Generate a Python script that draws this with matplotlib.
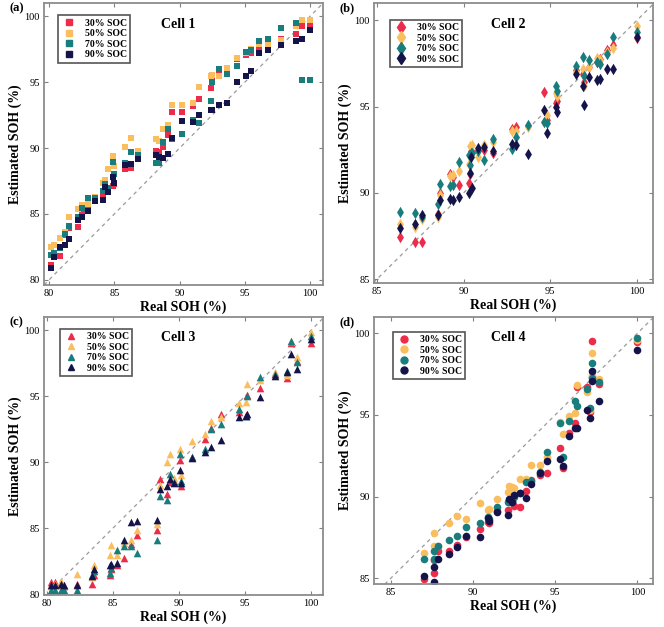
import matplotlib
matplotlib.use("Agg")
import matplotlib.pyplot as plt
import matplotlib.lines as mlines

plt.rcParams['font.family'] = ['Liberation Serif', 'DejaVu Serif']

# colours for the four SOC levels
soc_labels = ['30% SOC', '50% SOC', '70% SOC', '90% SOC']
soc_colors = ['#EB2D4B', '#FABE5F', '#197D7D', '#14144B']

# ---- Cell 1 ----
c1_x = [80.1, 80.4, 80.8, 81.2, 81.5, 82.2, 82.5, 83.0, 83.5, 84.1, 84.3, 84.5, 84.9,
        85.0, 85.8, 86.3, 86.8, 88.2, 88.4, 88.7, 89.1, 89.4, 90.2, 91.0, 91.5, 92.4,
        92.5, 93.0, 93.6, 94.4, 95.1, 95.45, 96.1, 96.8, 97.8, 98.9, 99.4, 100.0]
c1_30 = [81.1, 81.9, 81.8, 83.4, 83.9, 84.0, 85.1, 85.4, 86.1, 86.36, 86.8, 86.7, 87.12,
         87.3, 88.38, 88.5, 89.6, 89.8, 89.7, 90.06, 91.0, 92.75, 92.75, 93.2, 93.76, 94.57,
         95.5, 95.7, 95.7, 96.8, 97.1, 97.2, 97.7, 98.05, 98.3, 98.7, 99.24, 99.3]
c1_50 = [82.5, 82.6, 83.2, 83.6, 84.75, 85.35, 85.65, 85.75, 86.3, 87.37, 87.6, 88.4, 89.42,
         88.6, 90.05, 90.73, 89.8, 90.68, 90.5, 91.45, 91.75, 93.26, 93.26, 93.46, 94.65, 95.45,
         95.58, 95.45, 96.08, 96.84, 97.2, 97.5, 97.9, 97.8, 98.2, 99.3, 99.75, 99.75]
c1_70 = [81.9, 82.0, 82.4, 83.5, 84.1, 84.75, 85.45, 86.24, 86.24, 86.74, 87.25, 87.0, 88.96,
         88.0, 88.84, 89.72, 89.5, 88.84, 88.84, 90.48, 91.45, 90.7, 91.06, 92.1, 91.92, 93.56,
         95.03, 96.0, 95.66, 96.24, 97.3, 97.42, 98.1, 98.3, 99.14, 99.5, 95.2, 95.2]
c1_90 = [80.9, 81.75, 82.47, 82.6, 83.1, 84.55, 84.8, 85.25, 86.0, 86.06, 87.07, 86.7, 87.78,
         87.32, 88.7, 88.8, 89.14, 89.47, 89.3, 89.22, 89.52, 90.78, 92.07, 91.95, 92.5, 92.88,
         92.9, 93.26, 93.46, 95.03, 95.45, 95.86, 97.22, 97.42, 97.8, 98.1, 98.3, 99.0]

# ---- Cell 2 ----
c2_x = [86.35, 87.2, 87.6, 88.5, 88.65, 89.2, 89.4, 89.75, 90.3, 90.35, 90.4, 90.5, 90.85,
        91.2, 91.7, 92.8, 93.0, 93.7, 94.65, 94.8, 95.35, 95.4, 96.5, 96.9, 96.95, 97.25,
        97.7, 97.85, 98.25, 98.65, 100.0]
c2_30 = [87.42, 87.17, 87.17, 88.8, 89.98, 91.1, 90.9, 90.44, 90.6, 91.1, 92.4, 92.35, 92.5,
         92.5, 92.3, 93.7, 93.8, 93.9, 95.83, 94.2, 95.2, 95.3, 97.1, 96.9, 96.4, 97.3,
         97.6, 97.75, 98.27, 98.55, 98.96]
c2_50 = [88.2, 88.0, 88.5, 88.6, 89.87, 91.0, 91.05, 91.27, 91.7, 92.7, 92.17, 92.75, 92.1,
         92.8, 92.97, 93.6, 93.6, 93.8, 94.1, 94.52, 95.8, 95.6, 97.0, 97.2, 96.2, 97.3,
         97.8, 97.7, 98.15, 98.42, 99.67]
c2_70 = [88.87, 88.85, 88.6, 89.35, 90.54, 90.38, 90.45, 91.79, 92.2, 91.6, 92.3, 92.3, 92.4,
         91.9, 93.1, 92.56, 93.23, 93.94, 94.1, 94.05, 96.21, 95.9, 97.37, 97.85, 96.8, 97.71,
         97.6, 97.5, 98.04, 99.06, 99.35]
c2_90 = [87.94, 88.17, 88.71, 88.7, 89.58, 89.67, 89.6, 89.77, 90.0, 91.15, 92.1, 90.3, 92.6,
         92.65, 92.4, 92.83, 92.79, 92.27, 94.83, 93.48, 95.0, 94.67, 96.88, 96.2, 95.1, 96.69,
         96.56, 96.6, 97.17, 97.17, 99.06]

# ---- Cell 3 ----
c3_x = [80.3, 80.6, 81.1, 81.3, 82.27, 83.4, 83.6, 84.8, 84.85, 85.3, 85.85, 86.36, 86.86,
        88.37, 88.55, 89.1, 89.35, 89.6, 90.1, 90.15, 91.0, 91.98, 92.4, 93.17, 94.58, 95.15,
        95.1, 96.14, 97.28, 98.16, 98.46, 98.9, 100.0]
c3_30 = [80.93, 80.93, 80.7, 80.6, 80.8, 80.76, 81.5, 81.5, 81.9, 82.25, 82.78, 83.8, 84.5,
         84.86, 88.7, 87.63, 88.5, 88.6, 90.2, 88.2, 90.4, 91.8, 92.6, 93.66, 93.8, 95.1,
         93.6, 95.6, 96.7, 96.41, 99.05, 97.7, 99.0]
c3_50 = [80.6, 80.8, 81.0, 80.7, 81.57, 81.3, 82.25, 82.95, 83.7, 83.0, 83.9, 84.14, 84.9,
         85.3, 88.3, 90.03, 90.66, 88.8, 91.03, 89.0, 91.64, 92.15, 93.16, 93.45, 94.5, 95.93,
         94.6, 96.2, 96.82, 96.6, 99.2, 97.95, 99.9]
c3_70 = [80.35, 80.35, 80.35, 80.35, 80.35, 81.5, 81.8, 81.6, 82.0, 83.38, 83.64, 83.64, 83.1,
         84.1, 87.45, 87.12, 89.1, 88.5, 90.6, 88.6, 90.4, 91.0, 92.52, 92.9, 94.04, 95.0,
         93.5, 96.44, 96.7, 96.9, 99.22, 97.6, 99.6]
c3_90 = [80.7, 80.7, 80.75, 80.7, 80.7, 81.36, 81.9, 82.2, 82.3, 82.4, 84.14, 85.48, 85.56,
         85.6, 88.0, 88.2, 88.76, 88.4, 89.44, 88.4, 90.35, 90.76, 91.13, 91.7, 93.4, 93.66,
         93.5, 94.92, 96.5, 96.82, 98.2, 97.07, 99.34]

# ---- Cell 4 ----
c4_x = [87.05, 87.6, 87.65, 87.9, 88.55, 89.05, 89.55, 90.45, 90.9, 90.95, 91.45, 92.1, 92.2,
        92.4, 92.5, 92.85, 93.25, 93.55, 94.05, 94.5, 95.3, 95.45, 95.85, 96.2, 96.35, 96.95,
        97.1, 97.22, 97.25, 97.65, 100.0]
c4_30 = [84.95, 86.1, 85.3, 86.7, 86.7, 87.05, 87.5, 88.0, 88.47, 88.4, 89.1, 89.18, 89.7,
         89.76, 89.4, 89.35, 90.37, 91.0, 91.3, 91.47, 93.0, 91.78, 93.92, 94.53, 96.7, 96.73,
         95.2, 99.55, 97.3, 96.9, 99.45]
c4_50 = [86.53, 87.0, 87.75, 87.0, 88.37, 88.8, 88.63, 89.63, 89.18, 89.25, 89.84, 90.3, 90.65,
         90.6, 90.55, 91.1, 91.1, 91.94, 91.94, 92.45, 94.6, 93.85, 94.94, 95.14, 96.84, 96.43,
         95.3, 98.78, 97.45, 97.18, 99.6]
c4_70 = [86.2, 86.2, 86.7, 87.0, 87.35, 87.6, 88.16, 88.4, 88.78, 88.6, 89.38, 89.7, 89.8,
         89.7, 90.0, 90.2, 90.9, 90.98, 91.53, 92.76, 94.53, 92.4, 94.63, 95.88, 95.57, 96.57,
         95.4, 98.16, 97.24, 97.04, 99.7]
c4_90 = [85.15, 85.67, 84.8, 86.2, 86.47, 86.94, 87.6, 87.5, 88.67, 88.5, 89.08, 88.88, 89.84,
         89.67, 90.1, 90.2, 89.94, 90.78, 91.43, 92.2, 92.3, 91.88, 93.71, 94.18, 94.18, 95.3,
         94.8, 97.7, 97.08, 95.88, 99.0]

panels = [
    dict(tag='(a)', title='Cell 1', x=c1_x, ys=[c1_30, c1_50, c1_70, c1_90], marker='s', size=22,
         rect=[0.0663, 0.5455, 0.4201, 0.4493], lim_x=(79.6, 101.0), lim_y=(79.6, 101.0),
         ticks=[80, 85, 90, 95, 100], leg=(0.05, 0.957)),
    dict(tag='(b)', title='Cell 2', x=c2_x, ys=[c2_30, c2_50, c2_70, c2_90], marker='d', size=34,
         rect=[0.5633, 0.549, 0.4201, 0.446], lim_x=(84.83, 100.93), lim_y=(84.79, 101.0),
         ticks=[85, 90, 95, 100], leg=(0.057, 0.94)),
    dict(tag='(c)', title='Cell 3', x=c3_x, ys=[c3_30, c3_50, c3_70, c3_90], marker='^', size=30,
         rect=[0.0663, 0.051, 0.4201, 0.4434], lim_x=(79.8, 100.9), lim_y=(79.95, 101.0),
         ticks=[80, 85, 90, 95, 100], leg=(0.057, 0.957)),
    dict(tag='(d)', title='Cell 4', x=c4_x, ys=[c4_30, c4_50, c4_70, c4_90], marker='o', size=30,
         rect=[0.5633, 0.0686, 0.4201, 0.4258], lim_x=(83.98, 100.95), lim_y=(84.65, 101.0),
         ticks=[85, 90, 95, 100], leg=(0.068, 0.944)),
]

fig = plt.figure(figsize=(6.64, 6.27), dpi=100)

for p in panels:
    ax = fig.add_axes(p['rect'])
    lo = min(p['lim_x'][0], p['lim_y'][0])
    hi = max(p['lim_x'][1], p['lim_y'][1])
    ax.plot([lo, hi], [lo, hi], linestyle=(0, (3, 3)), color='#9a9a9a', lw=0.9, zorder=1)
    for ys, col in zip(p['ys'], soc_colors):
        ax.scatter(p['x'], ys, marker=p['marker'], s=p['size'], color=col,
                   linewidths=0, zorder=2)
    ax.set_xlim(*p['lim_x'])
    ax.set_ylim(*p['lim_y'])
    ax.set_xticks(p['ticks'])
    ax.set_yticks(p['ticks'])
    ax.tick_params(direction='in', length=3, width=0.8, color='#808080', labelsize=7.5,
                   top=True, right=True, pad=3)
    for sp in ax.spines.values():
        sp.set_color('#8c8c8c')
        sp.set_linewidth(1.3)
    ax.set_xlabel('Real SOH (%)', fontsize=10, fontweight='bold', labelpad=2)
    ax.set_ylabel('Estimated SOH (%)', fontsize=10, fontweight='bold', labelpad=2)
    ax.text(0.48, 0.925, p['title'], transform=ax.transAxes, ha='center', va='center',
            fontsize=10, fontweight='bold')
    msize = 6 if p['marker'] == 'd' else 5
    handles = [mlines.Line2D([], [], linestyle='none', marker=p['marker'], color=c,
                             markersize=msize) for c in soc_colors]
    leg = ax.legend(handles, soc_labels, loc='upper left', bbox_to_anchor=p['leg'],
                    fancybox=False, framealpha=1, edgecolor='#555555',
                    prop={'weight': 'bold', 'size': 7}, handletextpad=0.8,
                    handlelength=1.6, borderpad=0.35, labelspacing=0.15, borderaxespad=0)
    leg.get_frame().set_linewidth(1.2)
    # panel letter, placed relative to the axes corner
    x0, y0 = p['rect'][0], p['rect'][1] + p['rect'][3]
    fig.text(x0 - 0.052, y0 - 0.008, p['tag'], fontsize=9, fontweight='bold',
             ha='left', va='center')

fig.savefig('out.png', dpi=100)
